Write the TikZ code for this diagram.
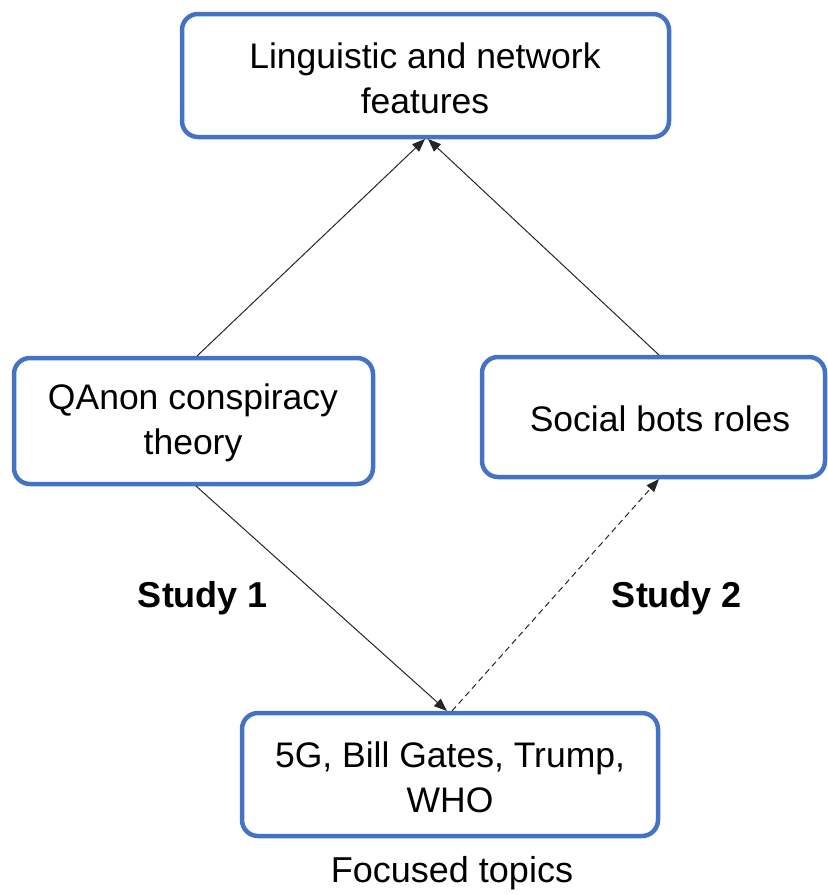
\documentclass[tikz,border=0pt]{standalone}
\usepackage{fontspec}
\setmainfont{Liberation Sans}
\usetikzlibrary{arrows.meta}
\definecolor{boxblue}{HTML}{4472C4}
\begin{document}
\begin{tikzpicture}[x=1pt,y=-1pt,
  box/.style={draw=boxblue,line width=4.5pt,rounded corners=16pt,fill=white},
  txt/.style={font=\fontsize{35.5}{45}\selectfont,align=center,inner sep=0pt},
  lbl/.style={font=\fontsize{36}{40}\selectfont\bfseries,inner sep=0pt},
  conn/.style={draw=black!85,line width=1pt,-{Triangle[length=13pt,width=10pt]}}]
\useasboundingbox (0,0) rectangle (828,895);
\draw[box] (182,14) rectangle (669,137);
\node[txt] (top) at (425,78) {Linguistic and network\\features};
\draw[box] (14,358) rectangle (373,484);
\node[txt] (left) at (193,423) {QAnon conspiracy\\theory};
\draw[box] (482,357) rectangle (825,477);
\node[txt] (right) at (660,419) {Social bots roles};
\draw[box] (242,713) rectangle (658,836);
\node[txt] (bot) at (450,777) {5G, Bill Gates, Trump,\\WHO};
\node[font=\fontsize{36}{40}\selectfont,inner sep=0pt] (ft) at (452,873) {Focused topics};
\node[lbl] (s1) at (203,598) {Study 1};
\node[lbl] (s2) at (677,598) {Study 2};
\coordinate (tA) at (425,139);
\coordinate (tB) at (428,139);
\coordinate (lT) at (197,356);
\coordinate (rT) at (659,355);
\coordinate (lB) at (196,486);
\coordinate (bA) at (447,711);
\coordinate (bB) at (452,711);
\coordinate (rB) at (659,479);
\draw[conn] (lT) -- (tA);
\draw[conn] (rT) -- (tB);
\draw[conn] (lB) -- (bA);
\draw[conn,dashed,dash pattern=on 6pt off 4pt] (bB) -- (rB);
\end{tikzpicture}
\end{document}
